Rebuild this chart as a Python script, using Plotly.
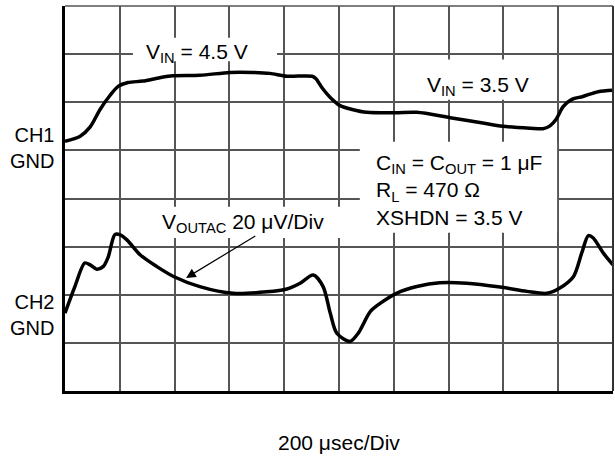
import plotly.graph_objects as go

# Time axis in divisions (200 usec/Div), vertical in divisions
ch1_x = [0, 0.27, 0.46, 0.64, 0.82, 0.97, 1.15, 1.42, 1.73, 1.97, 2.46, 3.01, 3.43, 3.74, 4.05, 4.51,
         4.58, 4.69, 4.84, 5.02, 5.24, 5.51, 6.02, 6.42, 7.03, 7.57, 7.99, 8.49, 8.72, 8.85, 8.96,
         9.09, 9.25, 9.45, 9.73, 10.0]
ch1_y = [5.19, 5.29, 5.49, 5.85, 6.14, 6.33, 6.41, 6.44, 6.51, 6.55, 6.56, 6.62, 6.62, 6.60, 6.54, 6.54,
         6.49, 6.30, 6.10, 5.93, 5.85, 5.79, 5.78, 5.79, 5.68, 5.58, 5.50, 5.46, 5.45, 5.51, 5.64,
         5.91, 6.06, 6.12, 6.22, 6.25]

ch2_x = [0, 0.18, 0.36, 0.46, 0.58, 0.70, 0.79, 0.91, 1.00, 1.13, 1.37, 1.67, 1.98, 2.46, 3.07, 3.68,
         4.05, 4.29, 4.53, 4.71, 4.84, 4.96, 5.20, 5.35, 5.57, 5.75, 6.05, 6.42, 6.84, 7.33, 7.94,
         8.43, 8.79, 9.03, 9.28, 9.43, 9.55, 9.64, 9.82, 10.0]
ch2_y = [1.62, 2.17, 2.66, 2.62, 2.53, 2.59, 2.79, 3.25, 3.25, 3.14, 2.83, 2.59, 2.38, 2.17, 2.03, 2.06,
         2.12, 2.24, 2.41, 2.17, 1.62, 1.20, 1.03, 1.20, 1.65, 1.82, 2.03, 2.17, 2.25, 2.24, 2.16,
         2.07, 2.03, 2.14, 2.38, 2.87, 3.23, 3.18, 2.87, 2.62]

x_divs = 10
y_divs = 8

FONT = "Arial, Liberation Sans, Helvetica, sans-serif"
FS = 21
GRID = "#555555"

fig = go.Figure()
for xs, ys in ((ch1_x, ch1_y), (ch2_x, ch2_y)):
    fig.add_trace(go.Scatter(x=xs, y=ys, mode="lines",
                             line=dict(color="black", width=3.5, shape="spline", smoothing=0.8),
                             hoverinfo="skip", showlegend=False))

# white label backgrounds (cover the grid, under the traces)
boxes = [(1.24, 3.87, 6.85, 7.34), (6.39, 8.76, 6.05, 6.89), (5.38, 8.98, 3.29, 5.18), (1.55, 5.2, 3.18, 3.83)]
for x0, x1, y0, y1 in boxes:
    fig.add_shape(type="rect", x0=x0, x1=x1, y0=y0, y1=y1, xref="x", yref="y",
                  fillcolor="white", line=dict(width=0), layer="between")

# top and right frame edges
fig.add_shape(type="line", xref="paper", yref="paper", x0=0, x1=1, y0=1, y1=1,
              line=dict(color=GRID, width=1.5), layer="above")
fig.add_shape(type="line", xref="paper", yref="paper", x0=1, x1=1, y0=0, y1=1,
              line=dict(color="#333333", width=2), layer="above")

annots = [
    dict(x=2.41, y=7.03, text="V<sub>IN</sub> = 4.5 V", xanchor="center"),
    dict(x=7.53, y=6.33, text="V<sub>IN</sub> = 3.5 V", xanchor="center"),
    dict(x=5.64, y=4.18, text="C<sub>IN</sub> = C<sub>OUT</sub> = 1 μF<br>R<sub>L</sub> = 470 Ω<br>XSHDN = 3.5 V",
         xanchor="left", align="left"),
    dict(x=3.24, y=3.5, text="V<sub>OUTAC</sub> 20 μV/Div", xanchor="center"),
]
for a in annots:
    fig.add_annotation(xref="x", yref="y", showarrow=False, yanchor="middle",
                       font=dict(family=FONT, size=FS, color="black"), **a)

# arrow to the CH2 trace
fig.add_annotation(xref="x", yref="y", axref="x", ayref="y", x=2.21, y=2.35, ax=3.50, ay=3.24,
                   text="", showarrow=True, arrowhead=2, arrowsize=1.6, arrowwidth=1.2, arrowcolor="black")

# channel ground labels
for yv, t in ((5.04, "CH1<br>GND"), (1.58, "CH2<br>GND")):
    fig.add_annotation(xref="paper", yref="y", x=0, y=yv, xshift=-9, xanchor="right", yanchor="middle",
                       align="right", text=t, showarrow=False,
                       font=dict(family=FONT, size=20, color="black"))

fig.add_annotation(xref="paper", yref="paper", x=0.5, y=0, yshift=-51, xanchor="center", yanchor="middle",
                   text="200 μsec/Div", showarrow=False, font=dict(family=FONT, size=FS, color="black"))

fig.update_xaxes(range=[0, x_divs], dtick=1, tick0=0, showticklabels=False, ticks="",
                 showgrid=True, gridcolor=GRID, gridwidth=1.5, zeroline=False,
                 showline=True, linecolor="black", linewidth=3, mirror=False, fixedrange=True)
fig.update_yaxes(range=[0, y_divs], dtick=1, tick0=0, showticklabels=False, ticks="",
                 showgrid=True, gridcolor=GRID, gridwidth=1.5, zeroline=False,
                 showline=True, linecolor="black", linewidth=3, mirror=False, fixedrange=True)

fig.update_layout(width=615, height=460, margin=dict(l=65, r=2, t=6, b=69),
                  paper_bgcolor="white", plot_bgcolor="white",
                  font=dict(family=FONT, size=FS, color="black"))

fig.write_html("out.html", config={"displayModeBar": False},
               post_script="document.body.style.margin='0';")
